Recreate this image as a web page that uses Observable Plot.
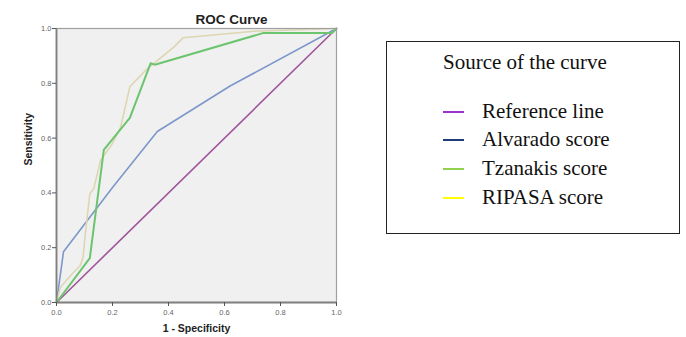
<!DOCTYPE html>
<html>
<head>
<meta charset="utf-8">
<script src="https://cdn.jsdelivr.net/npm/d3@7"></script>
<script src="https://cdn.jsdelivr.net/npm/@observablehq/plot@0.6"></script>
<style>
  html, body { margin: 0; padding: 0; background: #fff; }
  #wrap { position: relative; width: 686px; height: 337px; overflow: hidden; font-family: "Liberation Sans", Arial, sans-serif; }
  #chart { position: absolute; left: 0; top: 0; }
  #legend { position: absolute; left: 386px; top: 41px; width: 294px; height: 193px; border: 1px solid #222; box-sizing: border-box; font-family: "Liberation Serif", "Times New Roman", serif; color: #111; }
  #legend .ttl { position: absolute; left: 56px; top: 8px; font-size: 21px; white-space: nowrap; }
  #legend .item { position: absolute; left: 56px; height: 26px; white-space: nowrap; font-size: 21px; line-height: 26px; }
  #legend .item .sw { display: inline-block; width: 21px; height: 2px; vertical-align: middle; margin-right: 18px; position: relative; top: -1px; }
</style>
</head>
<body>
<div id="wrap">
  <div id="chart"></div>
  <div id="legend"></div>
</div>
<script>
// ---- data ----
const seriesNames = ["Reference line", "Alvarado score", "Tzanakis score", "RIPASA score"];
const legendColors = ["#9933cc", "#1f3b7a", "#92d050", "#ffff00"];
const curveColors = ["#a0559c", "#7d97cb", "#6cc46e", "#ddd6b2"];

const refFPR = [0, 1];
const refTPR = [0, 1];

const alvFPR = [0, 0.025, 0.20, 0.36, 0.62, 1.0];
const alvTPR = [0, 0.185, 0.42, 0.624, 0.79, 1.0];

const tzaFPR = [0, 0.119, 0.169, 0.262, 0.336, 0.351, 0.74, 0.985, 1.0];
const tzaTPR = [0, 0.162, 0.557, 0.674, 0.873, 0.868, 0.984, 0.984, 1.0];

const ripFPR = [0, 0.014, 0.056, 0.085, 0.095, 0.101, 0.119, 0.133, 0.157, 0.199, 0.229, 0.262, 0.324, 0.419, 0.452, 0.705, 1.0];
const ripTPR = [0, 0.056, 0.105, 0.135, 0.165, 0.232, 0.397, 0.415, 0.518, 0.579, 0.64, 0.788, 0.853, 0.932, 0.966, 0.99, 1.0];

const xTicks = [0, 0.2, 0.4, 0.6, 0.8, 1.0];
const yTicks = [0, 0.2, 0.4, 0.6, 0.8, 1.0];

const title = "ROC Curve";
const xLabel = "1 - Specificity";
const yLabel = "Sensitivity";
const legendTitle = "Source of the curve";

// ---- build tables ----
const toRows = (xs, ys) => xs.map((x, i) => ({x, y: ys[i]}));
const refRows = toRows(refFPR, refTPR);
const alvRows = toRows(alvFPR, alvTPR);
const tzaRows = toRows(tzaFPR, tzaTPR);
const ripRows = toRows(ripFPR, ripTPR);

const chart = Plot.plot({
  width: 345,
  height: 337,
  marginLeft: 56,
  marginRight: 9,
  marginTop: 28,
  marginBottom: 35,
  style: { fontFamily: "'Liberation Sans', Arial, sans-serif", background: "#fff", overflow: "visible" },
  x: { domain: [0, 1], ticks: xTicks, tickFormat: d3.format(".1f"), label: null },
  y: { domain: [0, 1], ticks: yTicks, tickFormat: d3.format(".1f"), label: null },
  marks: [
    Plot.frame({ fill: "#f0f0f0", stroke: null }),
    Plot.line(refRows, { x: "x", y: "y", stroke: curveColors[0], strokeWidth: 1.6 }),
    Plot.line(alvRows, { x: "x", y: "y", stroke: curveColors[1], strokeWidth: 1.6 }),
    Plot.line(ripRows, { x: "x", y: "y", stroke: curveColors[3], strokeWidth: 1.6 }),
    Plot.line(tzaRows, { x: "x", y: "y", stroke: curveColors[2], strokeWidth: 2 }),
    Plot.frame({ stroke: "#a0a0a0", strokeWidth: 1.2 }),
    Plot.ruleX([0], { stroke: "#808080", strokeWidth: 1.8 }),
    Plot.ruleY([0], { stroke: "#808080", strokeWidth: 1.8 }),
    Plot.axisX({ ticks: xTicks, tickFormat: d3.format(".1f"), tickSize: 4, tickPadding: 3, fontSize: 7.5, color: "#666", stroke: "#555", label: null }),
    Plot.axisY({ ticks: yTicks, tickFormat: d3.format(".1f"), tickSize: 4, tickPadding: 1, fontSize: 7.5, color: "#666", stroke: "#555", label: null }),
    Plot.text([title], { frameAnchor: "top", dx: 35, dy: -14, text: d => d, fontSize: 13.5, fontWeight: "bold", fill: "#222" }),
    Plot.text([xLabel], { frameAnchor: "bottom", dy: 29, text: d => d, fontSize: 10.5, fontWeight: "bold", fill: "#222" }),
    Plot.text([yLabel], { frameAnchor: "left", dx: -28, rotate: -90, text: d => d, fontSize: 10.5, fontWeight: "bold", fill: "#222" })
  ]
});
document.getElementById("chart").appendChild(chart);

// ---- legend ----
const lg = document.getElementById("legend");
const t = document.createElement("div");
t.className = "ttl";
t.textContent = legendTitle;
lg.appendChild(t);
const itemTops = [56, 84, 113, 142];
seriesNames.forEach((name, i) => {
  const it = document.createElement("div");
  it.className = "item";
  it.style.top = itemTops[i] + "px";
  const sw = document.createElement("span");
  sw.className = "sw";
  sw.style.backgroundColor = legendColors[i];
  it.appendChild(sw);
  it.appendChild(document.createTextNode(name));
  lg.appendChild(it);
});
</script>
</body>
</html>
